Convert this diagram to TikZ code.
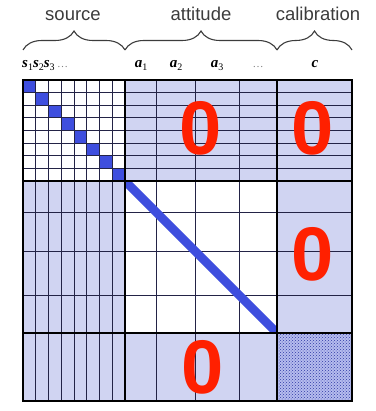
\documentclass[tikz,border=0pt]{standalone}
\usepackage{fontspec}
\setmainfont{Liberation Serif}
\setsansfont{Liberation Sans}
\usetikzlibrary{decorations.pathreplacing,patterns}
\definecolor{lb}{RGB}{208,212,242}
\definecolor{db}{RGB}{62,78,222}
\definecolor{zr}{RGB}{255,32,0}
\definecolor{gl}{RGB}{35,35,70}
\definecolor{tx}{RGB}{60,60,60}
\newcommand{\lab}[2]{{\bfseries\itshape #1}\raisebox{-0.35ex}{\fontsize{10}{10}\selectfont #2}}
\tikzset{
  gridline/.style={gl, line width=0.9pt},
  blockline/.style={black, line width=1.6pt},
  zero/.style={zr, font=\sffamily\bfseries\fontsize{76}{76}\selectfont, inner sep=0pt},
  head/.style={tx, font=\sffamily\fontsize{18.5}{20}\selectfont, anchor=base, inner sep=0pt},
  sub/.style={font=\fontsize{15}{16}\selectfont, anchor=base, inner sep=0pt},
  bracestyle/.style={decorate, decoration={brace, amplitude=19pt}, tx, line width=1.1pt}
}
\begin{document}
\begin{tikzpicture}[x=1pt,y=-1pt]
\useasboundingbox (0,0) rectangle (375,411);
% background fills
\fill[lb] (23,80) rectangle (352,401);
\fill[white] (23,80) rectangle (125,181);
\fill[white] (125,181) rectangle (277,333);
\fill[lb!82!db] (277,333) rectangle (352,401);
\fill[pattern=crosshatch dots, pattern color=db!75!black] (277,333) rectangle (352,401);
% diagonal squares in source block
\foreach \i in {0,...,7}
  \fill[db] ({23+\i*12.75},{80+\i*12.625}) rectangle ++(12.75,12.625);
% grid lines
\foreach \i in {1,...,7} {
  \draw[gridline] ({23+\i*12.75},80) -- ({23+\i*12.75},401);
  \draw[gridline] (23,{80+\i*12.625}) -- (352,{80+\i*12.625});
}
\foreach \v in {156,195,239} \draw[gridline] (\v,80) -- (\v,401);
\foreach \v in {212,251,295} \draw[gridline] (23,\v) -- (352,\v);
% diagonal line in attitude block
\begin{scope}
  \clip (125,181) rectangle (277,333);
  \draw[db, line width=8.5pt] (125,181) -- (277,333);
\end{scope}
% block boundaries
\draw[blockline] (125,80) -- (125,401);
\draw[blockline] (277,80) -- (277,401);
\draw[blockline] (23,181) -- (352,181);
\draw[blockline] (23,333) -- (352,333);
% outer border
\draw[black, line width=2.6pt] (23,80) rectangle (352,401);
% zeros
\node[zero] (z1) at (201,128) {0};
\node[zero] (z2) at (313,128) {0};
\node[zero] (z3) at (313,254) {0};
\node[zero] (z4) at (203,367) {0};
% headers
\node[head] (hs) at (73,21) {source};
\node[head] (ha) at (201,21) {attitude};
\node[head] (hc) at (318,21) {calibration};
\draw[bracestyle] (23,50) -- (125,50);
\draw[bracestyle] (125,50) -- (277,50);
\draw[bracestyle] (277,50) -- (352,50);
% column labels
\node[sub, anchor=base west] (ls) at (22,68) {\lab{s}{1}\lab{s}{2}\lab{s}{3}\,{\color{gray}\fontsize{11}{11}\selectfont\dots}};
\node[sub] (la1) at (141,68) {\lab{a}{1}};
\node[sub] (la2) at (176,68) {\lab{a}{2}};
\node[sub] (la3) at (217,68) {\lab{a}{3}};
\node[sub, gray] (ld) at (258,68) {\fontsize{11}{11}\selectfont\dots};
\node[sub] (lc) at (315,68) {{\bfseries\itshape c}};
\end{tikzpicture}
\end{document}
